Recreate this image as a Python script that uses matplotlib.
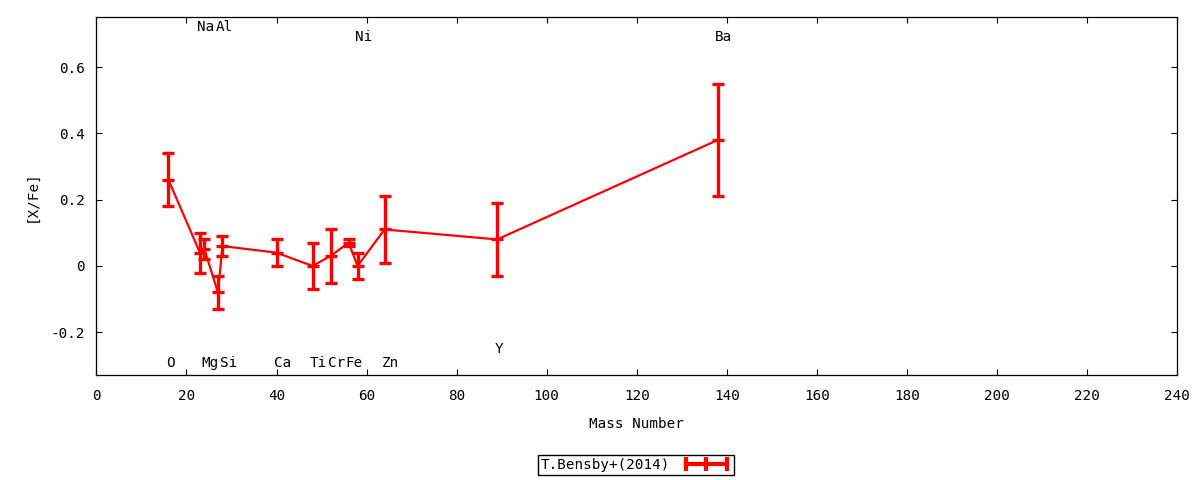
import matplotlib.pyplot as plt
from matplotlib.lines import Line2D

# Abundance ratios
elements = ['O', 'Na', 'Mg', 'Al', 'Si', 'Ca', 'Ti', 'Cr', 'Fe', 'Ni', 'Zn', 'Y', 'Ba']
mass = [16, 23, 24, 27, 28, 40, 48, 52, 56, 58, 64, 89, 138]
xfe = [0.26, 0.04, 0.05, -0.08, 0.06, 0.04, 0.00, 0.03, 0.07, 0.00, 0.11, 0.08, 0.38]
err = [0.08, 0.06, 0.03, 0.05, 0.03, 0.04, 0.07, 0.08, 0.01, 0.04, 0.10, 0.11, 0.17]

x_ticks = [0, 20, 40, 60, 80, 100, 120, 140, 160, 180, 200, 220, 240]
y_ticks = [-0.2, 0, 0.2, 0.4, 0.6]
y_tick_labels = ['-0.2', '0', '0.2', '0.4', '0.6']

# element labels: top row vs bottom row
top_row = {'Na': 0.722, 'Al': 0.722, 'Ni': 0.691, 'Ba': 0.691}
bottom_row = {'Y': -0.25}
bottom_default = -0.293

plt.rcParams['font.family'] = ['DejaVu Sans Mono', 'DejaVu Sans']
plt.rcParams['font.size'] = 10.3

fig = plt.figure(figsize=(12, 4.8), dpi=100)
ax = fig.add_axes([0.0803, 0.218, 0.9007, 0.746])

ax.errorbar(mass, xfe, yerr=err, color='#ff0000', lw=1.6, elinewidth=2.4,
            capsize=4.3, capthick=2.4, marker='_', markersize=9, mew=2.4)

for el, m in zip(elements, mass):
    if el in top_row:
        y = top_row[el]
    else:
        y = bottom_row.get(el, bottom_default)
    ax.text(m - 0.6, y, el, ha='left', va='center')

ax.set_xlim(0, 240)
ax.set_ylim(-0.33, 0.75)
ax.set_xticks(x_ticks)
ax.set_yticks(y_ticks)
ax.set_yticklabels(y_tick_labels)
ax.tick_params(direction='in', length=4, width=0.8, top=True, right=True, pad=8)
ax.tick_params(axis='x', pad=10)
for s in ax.spines.values():
    s.set_linewidth(0.9)

ax.set_xlabel('Mass Number', labelpad=10)
ax.set_ylabel('[X/Fe]', labelpad=9)

handle = Line2D([], [], color='#ff0000', lw=3, marker='|', markersize=10, mew=3)
fig.legend([handle], ['T.Bensby+(2014)'], loc='center', bbox_to_anchor=(0.53, 0.031),
           numpoints=3, markerfirst=False, fancybox=False, edgecolor='black',
           framealpha=1, borderpad=0.2, handlelength=3.5, borderaxespad=0)

plt.savefig('out.png')
